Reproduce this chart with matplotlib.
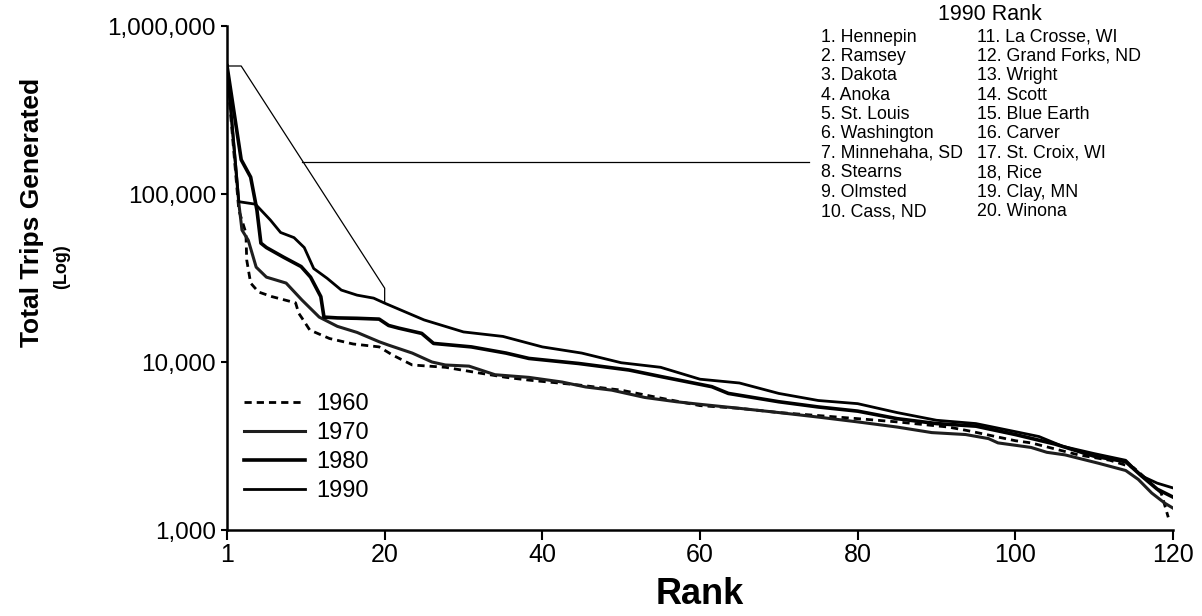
import matplotlib
matplotlib.use("Agg")
import matplotlib.pyplot as plt
from matplotlib.ticker import FixedLocator, NullLocator

plt.rcParams['font.family'] = ['Liberation Sans', 'DejaVu Sans']

# rank position (0 = rank 1 on the axis) and trips
pos_1990 = [0, 1.5, 3.6, 5.5, 6.8, 8.5, 9.8, 11.0, 12.7, 14.5, 16.5, 18.6, 20, 25, 30, 35, 40,
            45, 50, 55, 60, 65, 70, 75, 80, 85, 90, 95, 100, 103, 106, 110, 114, 116, 118, 120]
trips_1990 = [580000, 90000, 87000, 70000, 59000, 55000, 48000, 36000, 31500, 26800, 25000,
              24000, 22400, 17800, 15100, 14200, 12300, 11300, 9900, 9300, 7900, 7500, 6500,
              5900, 5650, 5000, 4500, 4300, 3850, 3600, 3150, 2850, 2600, 2100, 1900, 1780]

pos_1980 = [0, 1.8, 3.0, 3.8, 4.3, 5.0, 7.2, 9.4, 10.6, 11.9, 12.3, 14, 16.5, 19.3, 20.5, 21.8,
            24.7, 26.2, 31, 35.4, 38.3, 44.6, 51, 55.1, 61.5, 63.6, 70, 75, 80, 85, 90, 95,
            100, 105, 110, 114, 116, 118, 120]
trips_1980 = [580000, 160000, 126000, 80000, 51000, 48000, 42000, 37000, 32000, 24500, 18500,
              18300, 18200, 18000, 16500, 15900, 14800, 12900, 12300, 11300, 10500, 9800, 8960,
              8180, 7130, 6500, 5800, 5400, 5100, 4600, 4300, 4150, 3700, 3250, 2750, 2550,
              2100, 1750, 1570]

pos_1970 = [0, 1.5, 1.9, 2.7, 3.7, 5, 7.5, 9.5, 11.7, 14, 16.5, 19.3, 20.5, 23.5, 26, 27.7,
            30.7, 34, 38.3, 42.5, 45.5, 48.8, 53, 57, 60, 65, 70, 75, 80, 85, 89.4, 93.7,
            96.6, 97.8, 102, 104, 106.3, 110.5, 114, 115.6, 117.3, 119, 120]
trips_1970 = [580000, 88000, 61000, 53000, 36700, 32000, 29500, 23400, 18500, 16300, 15000,
              13200, 12600, 11300, 10000, 9600, 9450, 8400, 8100, 7600, 7100, 6800, 6150,
              5800, 5600, 5300, 5000, 4700, 4400, 4100, 3800, 3700, 3500, 3300, 3100, 2900,
              2800, 2500, 2260, 2000, 1660, 1440, 1350]

pos_1960 = [0, 0.3, 1.5, 2.4, 2.5, 3, 4, 5.7, 8.7, 9.1, 9.5, 10.5, 13, 16, 19.3, 21, 23.5,
            27.7, 32, 35.4, 38.3, 44.6, 50, 55, 60, 65, 70, 75, 80, 85, 91.5, 94, 100, 102,
            108, 112, 115, 116.2, 118.5, 119.4]
trips_1960 = [580000, 363000, 80000, 58600, 40500, 29500, 26100, 24500, 22500, 19500, 18300,
              15500, 13800, 12800, 12300, 11000, 9600, 9300, 8600, 8100, 7800, 7300, 6800,
              6100, 5500, 5300, 5000, 4800, 4600, 4400, 4100, 3900, 3400, 3300, 2800, 2600,
              2350, 2100, 1660, 1190]

# bracket around the 1990 top 20 and the pointer to the list
bracket_x = [0, 1.8, 20, 20]
bracket_y = [578000, 578000, 27500, 22700]
pointer_x = [9.5, 73.8]
pointer_y = [155600, 155600]

counties_a = ["1. Hennepin", "2. Ramsey", "3. Dakota", "4. Anoka", "5. St. Louis",
              "6. Washington", "7. Minnehaha, SD", "8. Stearns", "9. Olmsted", "10. Cass, ND"]
counties_b = ["11. La Crosse, WI", "12. Grand Forks, ND", "13. Wright", "14. Scott",
              "15. Blue Earth", "16. Carver", "17. St. Croix, WI", "18, Rice", "19. Clay, MN",
              "20. Winona"]

x_ticks = [0, 20, 40, 60, 80, 100, 120]
x_labels = ["1", "20", "40", "60", "80", "100", "120"]
y_ticks = [1000, 10000, 100000, 1000000]
y_labels = ["1,000", "10,000", "100,000", "1,000,000"]

W, H = 1202, 616
fig = plt.figure(figsize=(W / 100, H / 100), dpi=100)
ax = fig.add_axes([227 / W, 86 / H, 946 / W, 504 / H])

ax.plot(pos_1960, trips_1960, color='black', lw=2.0, ls=(0, (2.6, 1.8)), label='1960')
ax.plot(pos_1970, trips_1970, color='#1e1e1e', lw=2.2, label='1970')
ax.plot(pos_1980, trips_1980, color='black', lw=2.6, label='1980')
ax.plot(pos_1990, trips_1990, color='black', lw=2.0, label='1990')

ax.plot(bracket_x, bracket_y, color='black', lw=0.9)
ax.plot(pointer_x, pointer_y, color='black', lw=0.9)

ax.set_yscale('log')
ax.set_xlim(0, 120)
ax.set_ylim(1000, 1000000)
ax.yaxis.set_major_locator(FixedLocator(y_ticks))
ax.yaxis.set_minor_locator(NullLocator())
ax.set_yticklabels(y_labels)
ax.set_xticks(x_ticks)
ax.set_xticklabels(x_labels)

for s in ['top', 'right']:
    ax.spines[s].set_visible(False)
for s in ['left', 'bottom']:
    ax.spines[s].set_linewidth(1.8)
ax.tick_params(axis='y', length=4, width=1.5, pad=4, labelsize=17.5)
ax.tick_params(axis='x', length=7, width=1.5, pad=2, labelsize=18)

ax.legend(loc='lower left', bbox_to_anchor=(0.0, 0.022), frameon=False, fontsize=17,
          handlelength=2.6, handletextpad=0.5, labelspacing=0.3, borderaxespad=0.3)

fig.text(32 / W, 1 - 212 / H, 'Total Trips Generated', rotation=90, fontsize=19,
         fontweight='bold', ha='center', va='center')
fig.text(62 / W, 1 - 267 / H, '(Log)', rotation=90, fontsize=13,
         fontweight='bold', ha='center', va='center')
fig.text(700 / W, 1 - 595 / H, 'Rank', fontsize=26, fontweight='bold',
         ha='center', va='center')

fig.text(990 / W, 1 - 15 / H, '1990 Rank', fontsize=15.5, ha='center', va='center')
for i, (a, b) in enumerate(zip(counties_a, counties_b)):
    y = 1 - (37 + i * 19.4) / H
    fig.text(821 / W, y, a, fontsize=12.8, ha='left', va='center')
    fig.text(977 / W, y, b, fontsize=12.8, ha='left', va='center')

fig.savefig('out.png', dpi=100)
